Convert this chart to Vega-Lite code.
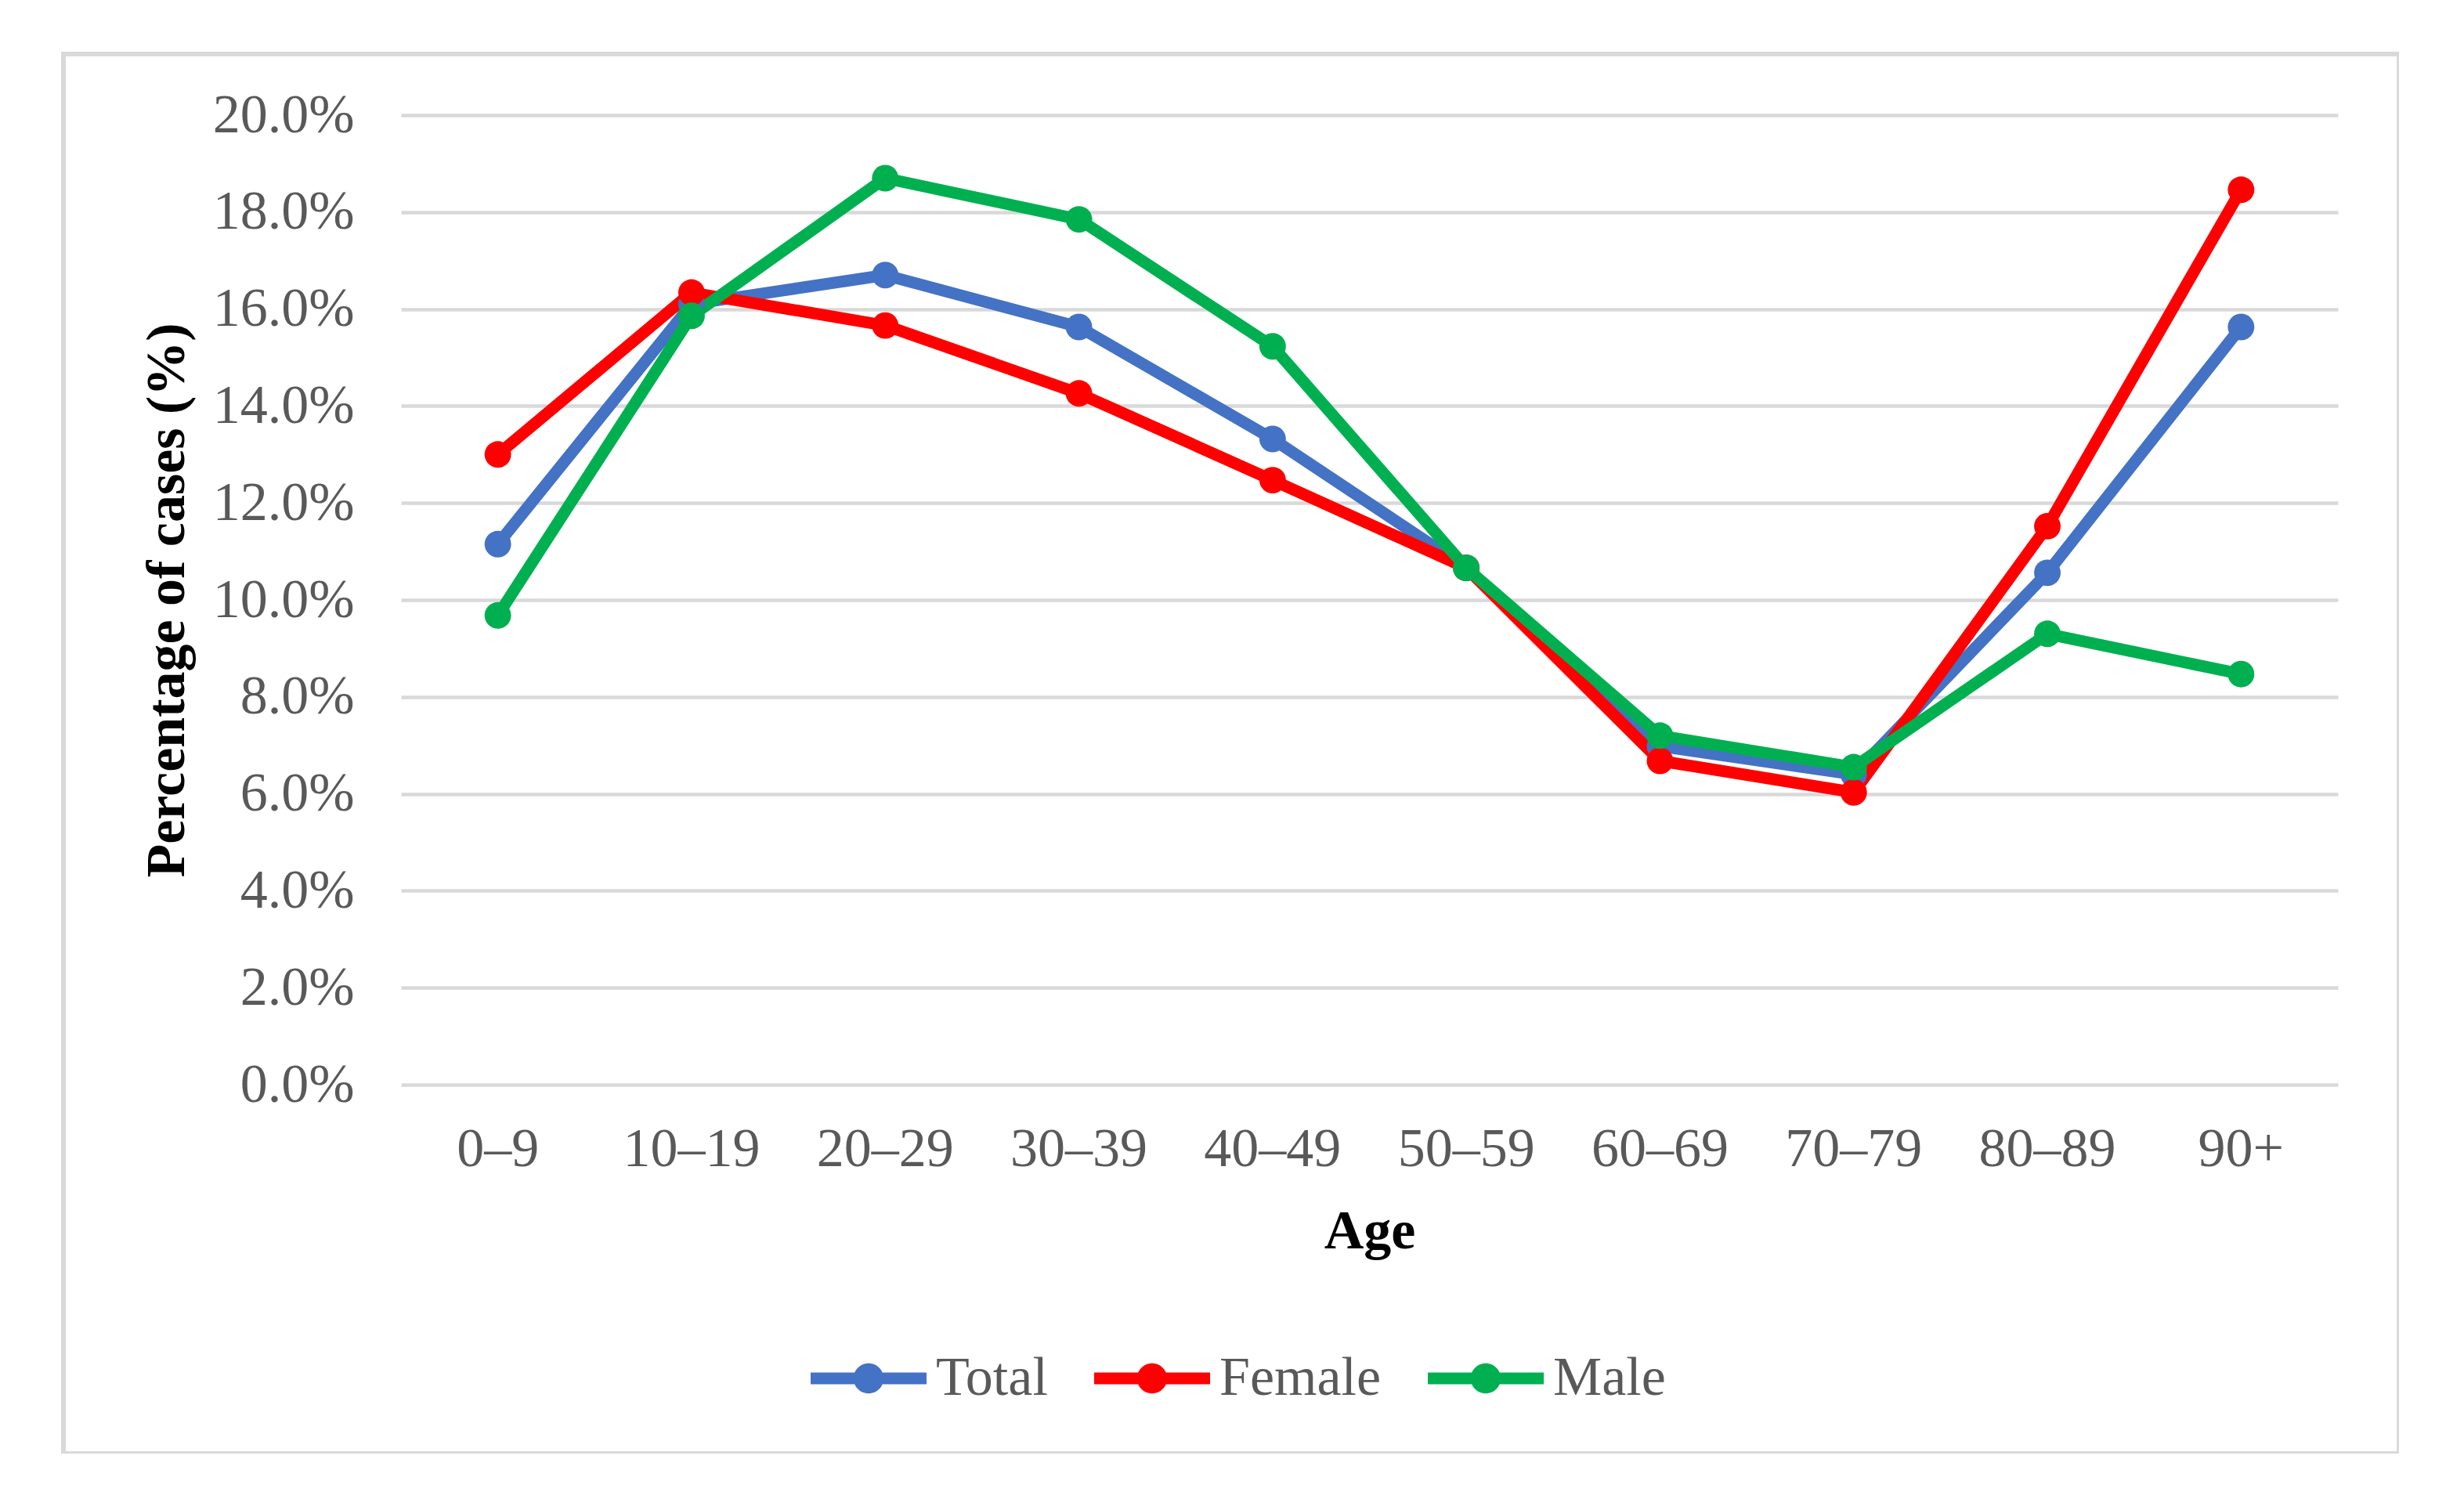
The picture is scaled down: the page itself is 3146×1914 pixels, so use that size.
{
  "$schema": "https://vega.github.io/schema/vega-lite/v6.json",
  "width": 2982,
  "height": 1787,
  "autosize": {"type": "none"},
  "padding": {"left": 81, "top": 69, "right": 0, "bottom": 0},
  "background": "white",
  "config": {
    "view": {"stroke": "#d9d9d9", "strokeWidth": 6},
    "font": "Liberation Serif"
  },
  "data": {
    "values": [
      {"age": "0–9", "series": "Total", "pct": 11.15},
      {"age": "10–19", "series": "Total", "pct": 16.1},
      {"age": "20–29", "series": "Total", "pct": 16.7},
      {"age": "30–39", "series": "Total", "pct": 15.63},
      {"age": "40–49", "series": "Total", "pct": 13.32},
      {"age": "50–59", "series": "Total", "pct": 10.66},
      {"age": "60–69", "series": "Total", "pct": 6.98},
      {"age": "70–79", "series": "Total", "pct": 6.4},
      {"age": "80–89", "series": "Total", "pct": 10.56},
      {"age": "90+", "series": "Total", "pct": 15.63},
      {"age": "0–9", "series": "Female", "pct": 13.0},
      {"age": "10–19", "series": "Female", "pct": 16.34},
      {"age": "20–29", "series": "Female", "pct": 15.66},
      {"age": "30–39", "series": "Female", "pct": 14.26},
      {"age": "40–49", "series": "Female", "pct": 12.47},
      {"age": "50–59", "series": "Female", "pct": 10.66},
      {"age": "60–69", "series": "Female", "pct": 6.68},
      {"age": "70–79", "series": "Female", "pct": 6.03},
      {"age": "80–89", "series": "Female", "pct": 11.52},
      {"age": "90+", "series": "Female", "pct": 18.46},
      {"age": "0–9", "series": "Male", "pct": 9.68},
      {"age": "10–19", "series": "Male", "pct": 15.86},
      {"age": "20–29", "series": "Male", "pct": 18.7},
      {"age": "30–39", "series": "Male", "pct": 17.85},
      {"age": "40–49", "series": "Male", "pct": 15.23},
      {"age": "50–59", "series": "Male", "pct": 10.66},
      {"age": "60–69", "series": "Male", "pct": 7.2},
      {"age": "70–79", "series": "Male", "pct": 6.55},
      {"age": "80–89", "series": "Male", "pct": 9.3},
      {"age": "90+", "series": "Male", "pct": 8.47}
    ]
  },
  "mark": {
    "type": "line",
    "strokeWidth": 15,
    "strokeJoin": "round",
    "strokeCap": "round",
    "point": {"filled": true, "size": 1150, "opacity": 1}
  },
  "encoding": {
    "x": {
      "field": "age",
      "type": "ordinal",
      "sort": ["0–9", "10–19", "20–29", "30–39", "40–49", "50–59", "60–69", "70–79", "80–89", "90+"],
      "scale": {"type": "band", "range": [431, 2904], "paddingInner": 0, "paddingOuter": 0},
      "axis": {
        "domain": false,
        "ticks": false,
        "tickSize": 0,
        "grid": false,
        "offset": -471,
        "labelPadding": 103,
        "labelBaseline": "alphabetic",
        "labelAngle": 0,
        "labelFont": "Liberation Serif",
        "labelFontSize": 70,
        "labelColor": "#595959",
        "labelLimit": 0,
        "title": "Age",
        "titleFont": "Liberation Serif",
        "titleFontSize": 70,
        "titleFontWeight": "bold",
        "titleColor": "black",
        "titleX": 1667.5,
        "titleY": 208,
        "titleBaseline": "alphabetic",
        "titleAlign": "center"
      }
    },
    "y": {
      "field": "pct",
      "type": "quantitative",
      "scale": {"domain": [0, 20], "range": [1316, 78], "nice": false, "zero": true},
      "axis": {
        "values": [0, 2, 4, 6, 8, 10, 12, 14, 16, 18, 20],
        "labelExpr": "format(datum.value, '.1f') + '%'",
        "domain": false,
        "ticks": false,
        "tickSize": 0,
        "grid": true,
        "gridColor": "#d9d9d9",
        "gridWidth": 4.5,
        "offset": -431,
        "labelPadding": 60,
        "labelFont": "Liberation Serif",
        "labelFontSize": 70,
        "labelColor": "#595959",
        "labelBaseline": "middle",
        "labelLimit": 0,
        "title": "Percentage of cases (%)",
        "titleFont": "Liberation Serif",
        "titleFontSize": 70,
        "titleFontWeight": "bold",
        "titleColor": "black",
        "titleAngle": -90,
        "titleX": -278,
        "titleY": 697,
        "titleBaseline": "alphabetic",
        "titleAlign": "center"
      }
    },
    "color": {
      "field": "series",
      "type": "nominal",
      "sort": ["Total", "Female", "Male"],
      "scale": {"domain": ["Total", "Female", "Male"], "range": ["#4472C4", "#FF0000", "#00B050"]},
      "legend": {
        "orient": "none",
        "legendX": 954,
        "legendY": 1617,
        "direction": "horizontal",
        "title": null,
        "symbolType": "M-1,-0.1H1V0.1H-1Z M-0.26,0A0.26,0.26 0 1 1 0.26,0A0.26,0.26 0 1 1 -0.26,0Z",
        "symbolSize": 21904,
        "symbolStrokeWidth": 0,
        "symbolOpacity": 1,
        "labelFont": "Liberation Serif",
        "labelFontSize": 70,
        "labelColor": "#595959",
        "labelOffset": 12,
        "labelLimit": 0,
        "columnPadding": 59,
        "padding": 0,
        "encode": {
          "symbols": {
            "update": {
              "fill": {"scale": "color", "field": "value"},
              "stroke": {"value": "transparent"}
            }
          }
        }
      }
    }
  }
}
